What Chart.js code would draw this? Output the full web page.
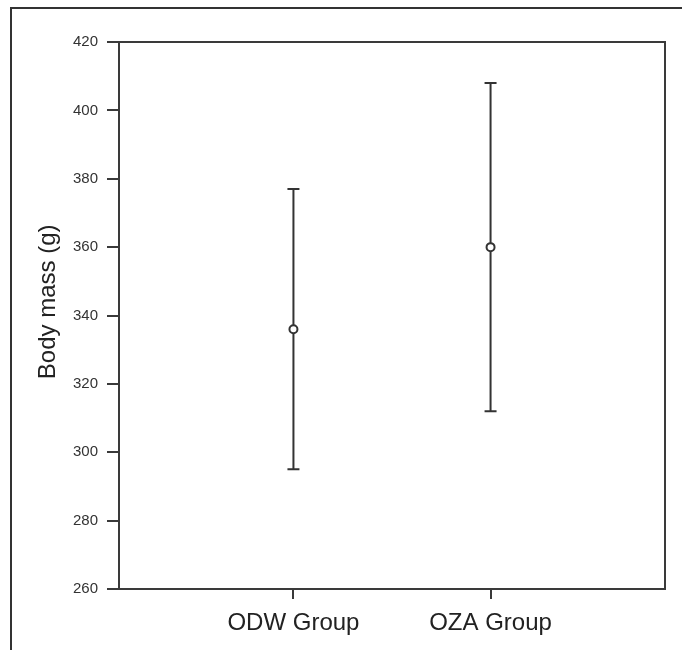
<!DOCTYPE html>
<html>
<head>
<meta charset="utf-8">
<script src="https://cdn.jsdelivr.net/npm/chart.js@4"></script>
<style>
  html, body { margin: 0; padding: 0; background: #fff; }
  #wrap { position: relative; width: 682px; height: 650px; }
  #frame { position: absolute; left: 10px; top: 7px; right: 0; bottom: 0;
           border-left: 2px solid #333; border-top: 2px solid #333; pointer-events: none; }
</style>
</head>
<body>
<div id="wrap">
  <canvas id="chart" width="682" height="650"></canvas>
  <div id="frame"></div>
</div>
<script>
// data
const groups = ['ODW Group', 'OZA Group'];
const groupPos = [1, 2];
const means = [336, 360];
const errLow = [295, 312];
const errHigh = [377, 408];
const yTicks = [260, 280, 300, 320, 340, 360, 380, 400, 420];
const yTitle = 'Body mass (g)';

const axisColor = '#3a3a3a';
const fontFamily = 'Liberation Sans, Arial, sans-serif';

// error bars drawn through the scales, plus plot box and y title
const errorBars = {
    id: 'errorBars',
    beforeDatasetsDraw(chart) {
        const { ctx, scales: { x, y } } = chart;
        ctx.save();
        ctx.strokeStyle = '#333';
        ctx.lineWidth = 2;
        groupPos.forEach((g, i) => {
            const px = x.getPixelForValue(g);
            const top = y.getPixelForValue(errHigh[i]);
            const bot = y.getPixelForValue(errLow[i]);
            ctx.beginPath();
            ctx.moveTo(px, top); ctx.lineTo(px, bot);
            ctx.moveTo(px - 6, top); ctx.lineTo(px + 6, top);
            ctx.moveTo(px - 6, bot); ctx.lineTo(px + 6, bot);
            ctx.stroke();
        });
        ctx.restore();
    },
    afterDraw(chart) {
        const a = chart.chartArea;
        const ctx = chart.ctx;
        ctx.save();
        ctx.strokeStyle = axisColor;
        ctx.lineWidth = 2;
        ctx.strokeRect(a.left, a.top, a.right - a.left, a.bottom - a.top);
        // y title, sits a little above the axis centre in the reference
        ctx.translate(48, chart.scales.y.getPixelForValue(344));
        ctx.rotate(-Math.PI / 2);
        ctx.fillStyle = '#222';
        ctx.font = '24px ' + fontFamily;
        ctx.textAlign = 'center';
        ctx.textBaseline = 'middle';
        ctx.fillText(yTitle, 0, 0);
        ctx.restore();
    }
};

new Chart(document.getElementById('chart'), {
    type: 'scatter',
    data: {
        datasets: [{
            data: groupPos.map((g, i) => ({ x: g, y: means[i] })),
            pointStyle: 'circle',
            pointRadius: 4,
            pointBorderWidth: 2,
            pointBorderColor: '#333',
            pointBackgroundColor: '#fff'
        }]
    },
    options: {
        responsive: false,
        animation: false,
        layout: { padding: { left: 0, top: 42, right: 17, bottom: 0 } },
        plugins: { legend: { display: false }, tooltip: { enabled: false } },
        scales: {
            x: {
                type: 'linear',
                min: 0.115,
                max: 2.885,
                afterBuildTicks: axis => { axis.ticks = groupPos.map(v => ({ value: v })); },
                afterFit: axis => { axis.height = 61; },
                grid: { drawOnChartArea: false, tickLength: 10, color: axisColor, lineWidth: 2 },
                border: { color: axisColor, width: 2 },
                ticks: {
                    padding: 10,
                    color: '#222',
                    font: { family: fontFamily, size: 24 },
                    callback: v => groups[groupPos.indexOf(v)] || ''
                }
            },
            y: {
                min: 260,
                max: 420,
                afterBuildTicks: axis => { axis.ticks = yTicks.map(v => ({ value: v })); },
                afterFit: axis => { axis.width = 119; },
                grid: { drawOnChartArea: false, tickLength: 12, color: axisColor, lineWidth: 2 },
                border: { color: axisColor, width: 2 },
                ticks: {
                    padding: 9,
                    color: '#333',
                    font: { family: fontFamily, size: 15 }
                }
            }
        }
    },
    plugins: [errorBars]
});
</script>
</body>
</html>
